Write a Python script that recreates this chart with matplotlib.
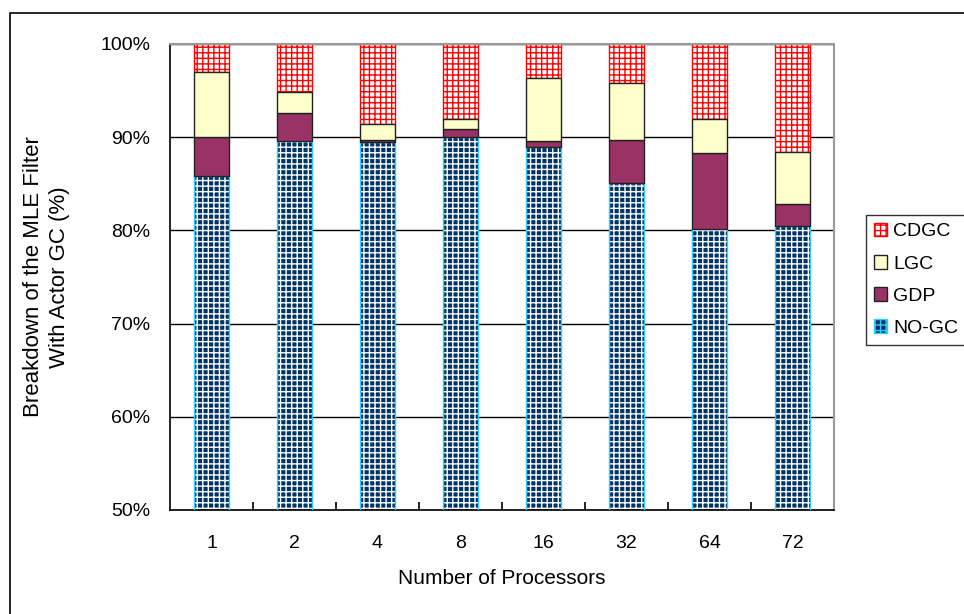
import matplotlib
matplotlib.use("Agg")
import matplotlib.pyplot as plt
import numpy as np
from matplotlib.patches import Patch, Rectangle

plt.rcParams['font.family'] = ['Liberation Sans', 'DejaVu Sans']
plt.rcParams['hatch.linewidth'] = 1.0

# data (percent of execution time)
procs = ['1', '2', '4', '8', '16', '32', '64', '72']
no_gc = [85.8, 89.6, 89.5, 90.0, 89.0, 85.1, 80.1, 80.5]
gdp = [4.2, 3.0, 0.2, 0.9, 0.6, 4.6, 8.2, 2.3]
lgc = [7.0, 2.2, 1.7, 1.1, 6.7, 6.1, 3.6, 5.6]
cdgc = [3.0, 5.2, 8.6, 8.0, 3.7, 4.2, 8.1, 11.6]

fig = plt.figure(figsize=(9.64, 6.14), dpi=100)
ax = fig.add_axes([170/964, 1-510/614, 664/964, 466/614])

x = np.arange(len(procs))
w = 0.41
navy = '#003366'
fs = 14

# NO-GC: navy checker look
ax.bar(x, no_gc, w, bottom=0, color=navy, edgecolor='white', hatch='+++', lw=0, zorder=2)
ax.bar(x, no_gc, w, bottom=0, fill=False, edgecolor='#33ccff', lw=1, zorder=3)
b = np.array(no_gc)
ax.bar(x, gdp, w, bottom=b, color='#993366', edgecolor='#222222', lw=1, zorder=3)
b = b + np.array(gdp)
ax.bar(x, lgc, w, bottom=b, color='#ffffcc', edgecolor='#222222', lw=1, zorder=3)
b = b + np.array(lgc)
ax.bar(x, cdgc, w, bottom=b, color='white', edgecolor='red', hatch='+++', lw=1, zorder=2)

ax.set_ylim(50, 100)
ax.set_xlim(-0.5, len(procs) - 0.5)
ax.set_yticks([50, 60, 70, 80, 90, 100])
ax.set_yticklabels(['%d%%' % v for v in [50, 60, 70, 80, 90, 100]])
ax.yaxis.grid(True, color='black', lw=1)
ax.set_axisbelow(True)
ax.set_xticks(x)
ax.set_xticklabels(procs)
ax.set_xticks(np.arange(0.5, len(procs) - 1), minor=True)
ax.tick_params(axis='x', which='major', length=0, pad=18, labelsize=fs)
ax.tick_params(axis='x', which='minor', direction='in', length=6, width=1.2)
ax.tick_params(axis='y', length=0, pad=14, labelsize=fs)

for s in ['top', 'right']:
    ax.spines[s].set_color('#999999')
    ax.spines[s].set_linestyle((0, (1, 1)))
    ax.spines[s].set_linewidth(1.5)
ax.spines['left'].set_linewidth(1.2)
ax.spines['bottom'].set_linewidth(1.2)

ax.set_xlabel('Number of Processors', fontsize=15, labelpad=12)
ax.set_ylabel('Breakdown of the MLE Filter\nWith Actor GC (%)', fontsize=16,
              labelpad=22, linespacing=1.3)

handles = [
    Patch(facecolor='white', edgecolor='red', hatch='+++', label='CDGC'),
    Patch(facecolor='#ffffcc', edgecolor='#222222', label='LGC'),
    Patch(facecolor='#993366', edgecolor='#222222', label='GDP'),
    Patch(facecolor=navy, edgecolor='#33ccff', hatch='+++', label='NO-GC'),
]
leg = fig.legend(handles=handles, loc='upper left', bbox_to_anchor=(866/964, 1-215/614),
                 frameon=True, fancybox=False, fontsize=fs, handlelength=0.7,
                 handleheight=0.7, handletextpad=0.3, labelspacing=0.75,
                 borderpad=0.4, borderaxespad=0)
leg.get_frame().set_edgecolor('black')
leg.get_frame().set_linewidth(1)

# outer chart frame
fig.patches.append(Rectangle((10/964, -0.05), 1.1, 1-13/614+0.05, transform=fig.transFigure,
                             fill=False, edgecolor='black', lw=1.2))

fig.savefig('out.png', dpi=100)
